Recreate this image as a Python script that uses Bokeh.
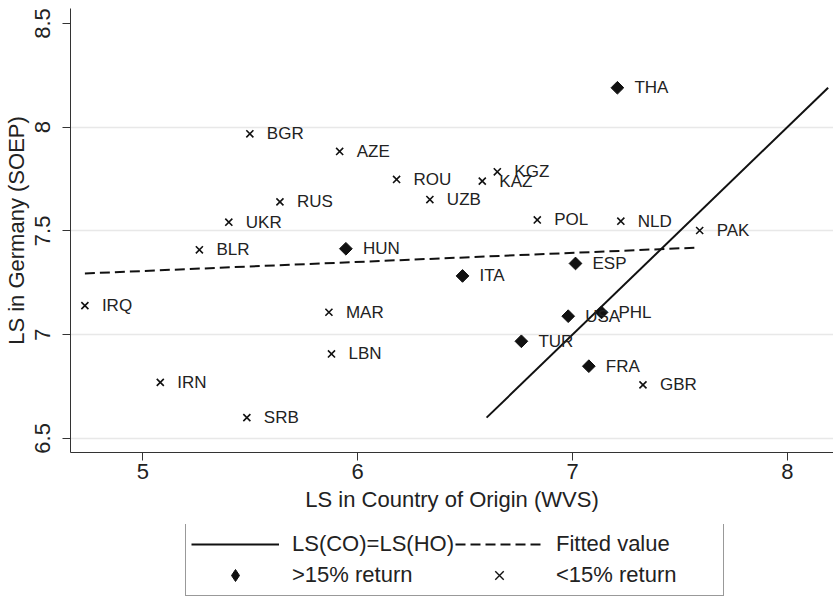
import math
from bokeh.plotting import figure
from bokeh.layouts import column
from bokeh.models import ColumnDataSource, Legend, LegendItem, FixedTicker, Range1d
from bokeh.core.properties import value
from bokeh.embed import file_html
from bokeh.resources import INLINE

# ---- data ----
countries_high = ["THA", "HUN", "ESP", "ITA", "USA", "PHL", "TUR", "FRA"]
origin_high    = [7.209, 5.945, 7.014, 6.488, 6.980, 7.135, 6.762, 7.076]
germany_high   = [8.190, 7.414, 7.343, 7.283, 7.089, 7.107, 6.968, 6.848]

countries_low = ["BGR", "AZE", "ROU", "KGZ", "KAZ", "RUS", "UZB", "UKR", "POL",
                 "NLD", "PAK", "BLR", "IRQ", "MAR", "LBN", "IRN", "GBR", "SRB"]
origin_low    = [5.498, 5.916, 6.181, 6.650, 6.580, 5.638, 6.336, 5.400, 6.836,
                 7.225, 7.592, 5.263, 4.730, 5.866, 5.878, 5.081, 7.328, 5.484]
germany_low   = [7.968, 7.883, 7.748, 7.785, 7.740, 7.640, 7.651, 7.542, 7.553,
                 7.547, 7.502, 7.409, 7.140, 7.108, 6.907, 6.770, 6.758, 6.600]

equality_line = [6.60, 8.19]          # LS(CO)=LS(HO): same values on both axes
fitted_x = [4.73, 7.59]
fitted_y = [7.295, 7.420]

x_ticks = [5, 6, 7, 8]
x_tick_labels = ["5", "6", "7", "8"]
y_ticks = [6.5, 7, 7.5, 8, 8.5]
y_tick_labels = ["6.5", "7", "7.5", "8", "8.5"]

legend_labels = ["LS(CO)=LS(HO)", "Fitted value", ">15% return", "<15% return"]

FONT = "Liberation Sans"
TXT = "#222222"
INK = "#111111"

src_high = ColumnDataSource(dict(x=origin_high, y=germany_high, label=countries_high))
src_low = ColumnDataSource(dict(x=origin_low, y=germany_low, label=countries_low))


def draw_lines(fig):
    """Draw the two reference lines on a figure; returns the renderers (for the legend)."""
    r_eq = fig.line(equality_line, equality_line, line_color=INK, line_width=2)
    r_fit = fig.line(fitted_x, fitted_y, line_color=INK, line_width=2, line_dash="10 5")
    return r_eq, r_fit


# ---------------- main plot ----------------
p = figure(frame_width=763, frame_height=444, output_backend="svg", toolbar_location=None,
           x_range=Range1d(4.663, 8.215), y_range=Range1d(6.432, 8.572),
           min_border_left=70, min_border_right=0, min_border_top=8, min_border_bottom=72)
p.outline_line_color = None
p.background_fill_color = "white"
p.border_fill_color = "white"

p.xgrid.visible = False
p.ygrid.ticker = FixedTicker(ticks=[6.5, 7, 7.5, 8])
p.ygrid.grid_line_color = "#e8e8e8"
p.ygrid.grid_line_width = 1.5

for ax in (p.xaxis[0], p.yaxis[0]):
    ax.axis_line_color = "#333333"
    ax.major_tick_line_color = "#333333"
    ax.major_tick_out = 8
    ax.major_tick_in = 0
    ax.minor_tick_line_color = None
    ax.major_label_text_font = FONT
    ax.major_label_text_font_size = "22px"
    ax.major_label_text_color = TXT
    ax.axis_label_text_font = FONT
    ax.axis_label_text_font_size = "22px"
    ax.axis_label_text_font_style = "normal"
    ax.axis_label_text_color = TXT

p.xaxis.ticker = FixedTicker(ticks=x_ticks)
p.xaxis.major_label_overrides = {t: l for t, l in zip(x_ticks, x_tick_labels)}
p.xaxis.axis_label = "LS in Country of Origin (WVS)"
p.xaxis.major_label_standoff = 3
p.xaxis.axis_label_standoff = 5

p.yaxis.ticker = FixedTicker(ticks=y_ticks)
p.yaxis.major_label_overrides = {t: l for t, l in zip(y_ticks, y_tick_labels)}
p.yaxis.major_label_orientation = "parallel"
p.yaxis.axis_label = "LS in Germany (SOEP)"
p.yaxis.major_label_standoff = 12
p.yaxis.axis_label_standoff = 4

draw_lines(p)
p.scatter("x", "y", source=src_high, marker="square", angle=math.pi / 4,
          size=9, fill_color=INK, line_color=INK)
p.scatter("x", "y", source=src_low, marker="x", size=10, line_color=INK, line_width=1.6)

for src in (src_high, src_low):
    p.text("x", "y", text="label", source=src, x_offset=17, text_baseline="middle",
           text_align="left", text_font=value(FONT), text_font_size="17px",
           text_color=TXT)

# ---------------- legend strip (same series, view range outside the data) ----------------
lf = figure(width=833, height=73, output_backend="svg", toolbar_location=None,
            x_range=Range1d(0, 1), y_range=Range1d(0, 1),
            x_axis_location=None, y_axis_location=None,
            min_border_left=70, min_border_right=0, min_border_top=0, min_border_bottom=0)
lf.outline_line_color = None
lf.grid.visible = False
lf.background_fill_color = "white"
lf.border_fill_color = "white"

k_eq, k_fit = draw_lines(lf)
k_high = lf.scatter("x", "y", source=src_high, marker="diamond", fill_color=INK, line_color=INK)
k_low = lf.scatter("x", "y", source=src_low, marker="x", line_color=INK, line_width=1.4)

legend = Legend(items=[LegendItem(label=lab, renderers=[r])
                       for lab, r in zip(legend_labels, [k_eq, k_fit, k_high, k_low])],
    orientation="horizontal", ncols=2, location=(115, 1),
    glyph_width=88, glyph_height=30, label_standoff=13, label_width=162, label_height=23,
    spacing=1, padding=5, margin=0,
    border_line_color="#333333", border_line_width=1,
    label_text_font=FONT, label_text_font_size="22px", label_text_color=TXT,
    background_fill_color="white", background_fill_alpha=1.0)
lf.add_layout(legend, "center")

layout = column(p, lf, spacing=0)
open("out.html", "w").write(file_html(layout, INLINE))
